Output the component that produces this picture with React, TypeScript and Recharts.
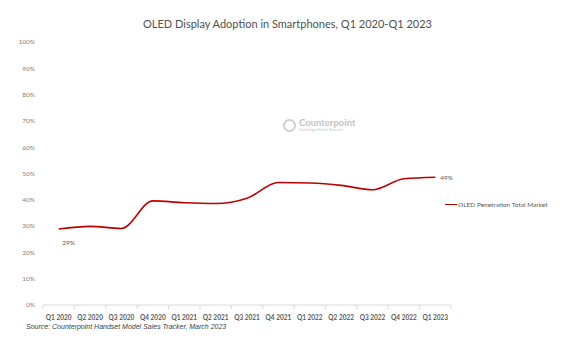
import React from 'react';
import { LineChart, Line, XAxis, YAxis, LabelList } from 'recharts';

const quarters = ['Q1 2020', 'Q2 2020', 'Q3 2020', 'Q4 2020', 'Q1 2021', 'Q2 2021', 'Q3 2021', 'Q4 2021', 'Q1 2022', 'Q2 2022', 'Q3 2022', 'Q4 2022', 'Q1 2023'];
const penetration = [28.9, 29.9, 29.1, 39.6, 38.9, 38.6, 40.6, 46.6, 46.4, 45.5, 43.8, 48.0, 48.6];
const yTicks = [0, 10, 20, 30, 40, 50, 60, 70, 80, 90, 100];
const seriesName = 'OLED Penetration Total Market';

const data = quarters.map((q, i) => ({ quarter: q, value: penetration[i] }));

const W = 575;
const H = 349;
const M = { top: 42, right: 124, left: 0, bottom: 24 };
const Y_W = 43;
const FONT = 'Lato, "Open Sans", sans-serif';
const halfBand = (W - M.right - M.left - Y_W) / quarters.length / 2;

const QuarterTick = (props: any) => {
    const { x, y, payload, index } = props;
    const top = y - 8;
    return (
        <g>
            <line x1={x - halfBand} x2={x - halfBand} y1={top} y2={top + 4} stroke="#d9d9d9" />
            {index === quarters.length - 1 && (
                <line x1={x + halfBand} x2={x + halfBand} y1={top} y2={top + 4} stroke="#d9d9d9" />
            )}
            <text x={x} y={top + 14.5} textAnchor="middle" fontSize={6.5} fontWeight={700} fill="#595959" fontFamily={FONT}>
                {payload.value}
            </text>
        </g>
    );
};

const EndLabel = (props: any) => {
    const { x, y, value, index } = props;
    const txt = `${Math.round(value)}%`;
    if (index === 0) {
        return <text x={x + 10} y={y + 16} textAnchor="middle" fontSize={6.5} fill="#595959" fontFamily={FONT}>{txt}</text>;
    }
    if (index === quarters.length - 1) {
        return <text x={x + 5} y={y + 2.5} textAnchor="start" fontSize={6.5} fill="#595959" fontFamily={FONT}>{txt}</text>;
    }
    return null;
};

const App: React.FC = () => {
    return (
        <div style={{ position: 'absolute', left: 0, top: 0, width: W, height: H, background: '#fff' }}>
            <div style={{ position: 'absolute', left: 0, width: W, top: 17, textAlign: 'center', fontFamily: FONT, fontSize: 11, color: '#505050' }}>
                OLED Display Adoption in Smartphones, Q1 2020-Q1 2023
            </div>

            {/* watermark */}
            <div style={{ position: 'absolute', left: 283, top: 118, display: 'flex', alignItems: 'center', color: '#c4c4c4', fontFamily: FONT }}>
                <div style={{ width: 9, height: 9, borderRadius: '50%', border: '2px solid #cfcfcf', marginRight: 3 }} />
                <div>
                    <div style={{ fontSize: 9.5, fontWeight: 700, lineHeight: '10px' }}>Counterpoint</div>
                    <div style={{ fontSize: 3.5, lineHeight: '5px' }}>Technology Market Research</div>
                </div>
            </div>

            <LineChart width={W} height={H} data={data} margin={M} style={{ position: 'absolute', left: 0, top: 0 }}>
                <XAxis
                    dataKey="quarter"
                    axisLine={{ stroke: '#d9d9d9' }}
                    tickLine={false}
                    tick={<QuarterTick />}
                    interval={0}
                    height={20}
                    padding={{ left: halfBand, right: halfBand }}
                />
                <YAxis
                    domain={[0, 100]}
                    ticks={yTicks}
                    tickFormatter={(v: number) => `${v}%`}
                    axisLine={false}
                    tickLine={false}
                    width={Y_W}
                    tick={{ fontSize: 6.5, fill: '#7f7f7f', fontFamily: FONT }}
                />
                <Line
                    type="monotone"
                    dataKey="value"
                    name={seriesName}
                    stroke="#c00000"
                    strokeWidth={1.6}
                    dot={false}
                    isAnimationActive={false}
                >
                    <LabelList dataKey="value" content={<EndLabel />} />
                </Line>
            </LineChart>

            {/* legend */}
            <div style={{ position: 'absolute', left: 445, top: 201, display: 'flex', alignItems: 'center', fontFamily: FONT, fontSize: 6.5, color: '#595959' }}>
                <span style={{ display: 'inline-block', width: 12, height: 1.6, background: '#c00000', marginRight: 1 }} />
                {seriesName}
            </div>

            <div style={{ position: 'absolute', left: 26, top: 323, fontFamily: '"Liberation Sans", Arial, sans-serif', fontStyle: 'italic', fontSize: 7, color: '#404040' }}>
                Source: Counterpoint Handset Model Sales Tracker, March 2023
            </div>
        </div>
    );
};

export default App;
